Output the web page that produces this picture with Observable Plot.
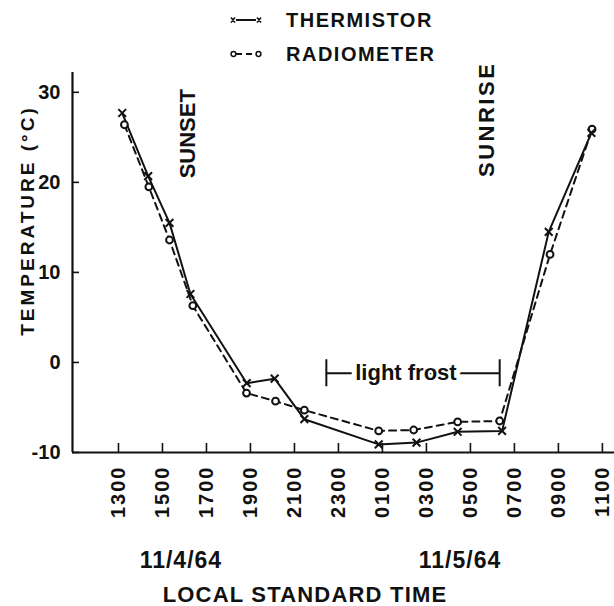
<!DOCTYPE html>
<html>
<head>
<meta charset="utf-8">
<script src="https://cdn.jsdelivr.net/npm/d3@7"></script>
<script src="https://cdn.jsdelivr.net/npm/@observablehq/plot@0.6"></script>
<style>
  html, body { margin: 0; padding: 0; background: #fff; }
  body { width: 614px; height: 606px; overflow: hidden; font-family: "Liberation Sans", Arial, sans-serif; color: #111; }
  #legend { position: relative; height: 62px; }
  .lg { position: absolute; left: 230px; height: 24px; display: flex; align-items: center; font-weight: 700; font-size: 20px; letter-spacing: 1.5px; }
  .lg svg { margin-right: 24px; }
  #chart svg { display: block; }
  #below { position: relative; height: 76px; }
  .cap { position: absolute; transform: translate(-50%, -50%); white-space: nowrap; font-weight: 700; }
</style>
</head>
<body>
<div id="legend"></div>
<div id="chart"></div>
<div id="below"></div>
<script>
// ---- data (time in hours from 0000 on 11/4/64; 24 = 0000 on 11/5/64) ----
const thermTime = [13.17, 14.35, 15.32, 16.27, 18.83, 20.10, 21.45, 24.83, 26.55, 28.42, 30.44, 32.56, 34.50];
const thermTemp = [27.7, 20.7, 15.5, 7.6, -2.3, -1.8, -6.3, -9.1, -8.9, -7.7, -7.6, 14.5, 25.5];
const radTime   = [13.27, 14.38, 15.32, 16.38, 18.82, 20.14, 21.45, 24.83, 26.42, 28.42, 30.33, 32.62, 34.53];
const radTemp   = [26.4, 19.5, 13.6, 6.3, -3.4, -4.3, -5.3, -7.6, -7.5, -6.6, -6.5, 12.0, 25.9];

const seriesNames = ["THERMISTOR", "RADIOMETER"];

const xTicks = [13, 15, 17, 19, 21, 23, 25, 27, 29, 31, 33, 35];
const xTickLabels = ["1300", "1500", "1700", "1900", "2100", "2300", "0100", "0300", "0500", "0700", "0900", "1100"];
const yTicks = [-10, 0, 10, 20, 30];
const xDomain = [10.91, 35.55];
const yDomain = [-10, 32.2];

const eventLabels = ["SUNSET", "SUNRISE"];
const eventTime = [16.14, 29.77];
const eventTemp = [25.4, 27.0];

const frostLabel = "light frost";
const frostSpan = [22.45, 30.33];
const frostLevel = -1.2;
const frostHalfBar = 1.5;
const frostTextTime = 26.07;

const dateLabels = ["11/4/64", "11/5/64"];
const dateTimes = [15.86, 28.55];
const xTitle = "LOCAL STANDARD TIME";
const yTitle = "TEMPERATURE (°C)";

// ---- tables ----
const thermistor = thermTime.map((t, i) => ({t, v: thermTemp[i]}));
const radiometer = radTime.map((t, i) => ({t, v: radTemp[i]}));
const events = eventLabels.map((label, i) => ({label, t: eventTime[i], v: eventTemp[i]}));

const FONT = "'Liberation Sans', Arial, sans-serif";
const INK = "#111";

// ---- legend ----
const legend = document.getElementById("legend");
const symT = `<svg width="32" height="12"><line x1="6" y1="6" x2="26" y2="6" stroke="${INK}" stroke-width="2"/>
  <path d="M1,3.5L5,8.5M5,3.5L1,8.5M27,3.5L31,8.5M31,3.5L27,8.5" stroke="${INK}" stroke-width="1.6"/></svg>`;
const symR = `<svg width="32" height="12"><line x1="6" y1="6" x2="26" y2="6" stroke="${INK}" stroke-width="2" stroke-dasharray="6,4"/>
  <circle cx="3.5" cy="6" r="2.4" fill="#fff" stroke="${INK}" stroke-width="1.5"/><circle cx="28.5" cy="6" r="2.4" fill="#fff" stroke="${INK}" stroke-width="1.5"/></svg>`;
[[symT, seriesNames[0], 8], [symR, seriesNames[1], 42]].forEach(([s, name, top]) => {
  const d = document.createElement("div");
  d.className = "lg";
  d.style.top = top + "px";
  d.innerHTML = s + `<span>${name}</span>`;
  legend.appendChild(d);
});

// ---- plot ----
const fmtX = d => xTickLabels[xTicks.indexOf(d)];

const plot = Plot.plot({
  width: 614,
  height: 468,
  marginLeft: 72,
  marginRight: 0,
  marginTop: 10,
  marginBottom: 78,
  style: {fontFamily: FONT, background: "transparent", overflow: "visible", color: INK},
  x: {domain: xDomain},
  y: {domain: yDomain},
  marks: [
    Plot.axisX(xTicks, {tickSize: -9, tickFormat: () => "", label: null, stroke: INK, strokeWidth: 1.6}),
    Plot.axisX(xTicks, {tickSize: 0, tickPadding: 13, tickRotate: -90, tickFormat: fmtX, label: null, fontSize: 20, fontWeight: "bold", fill: INK}),
    Plot.axisY(yTicks, {tickSize: -7, tickFormat: () => "", label: null, stroke: INK, strokeWidth: 1.6}),
    Plot.axisY(yTicks, {tickSize: 0, tickPadding: 12, tickFormat: d => (d < 0 ? "-" + Math.abs(d) : String(d)), label: null, fontSize: 20, fontWeight: "bold", fill: INK}),
    Plot.ruleY([yDomain[0]], {stroke: INK, strokeWidth: 2.2}),
    Plot.ruleX([xDomain[0]], {stroke: INK, strokeWidth: 2.2}),
    Plot.text([yTitle], {frameAnchor: "left", textAnchor: "middle", rotate: -90, dx: -45, dy: -42, fontSize: 19, fontWeight: "bold", fill: INK}),
    // annotations
    Plot.text(events, {x: "t", y: "v", text: "label", rotate: -90, fontSize: 22, fontWeight: "bold", fill: INK}),
    Plot.ruleY([frostLevel], {x1: frostSpan[0], x2: frostSpan[1], stroke: INK, strokeWidth: 1.8}),
    Plot.ruleX(frostSpan, {y1: frostLevel - frostHalfBar, y2: frostLevel + frostHalfBar, stroke: INK, strokeWidth: 2}),
    Plot.text([frostLabel], {x: frostTextTime, y: frostLevel, text: d => d, fontSize: 22, fontWeight: "bold", fill: INK, stroke: "white", strokeWidth: 10}),
    // series
    Plot.line(radiometer, {x: "t", y: "v", stroke: INK, strokeWidth: 2, strokeDasharray: "7,5"}),
    Plot.line(thermistor, {x: "t", y: "v", stroke: INK, strokeWidth: 2}),
    Plot.dot(radiometer, {x: "t", y: "v", symbol: "circle", r: 3.4, fill: "white", stroke: INK, strokeWidth: 2}),
    Plot.dot(thermistor, {x: "t", y: "v", symbol: "times", r: 3.6, stroke: INK, strokeWidth: 2})
  ]
});
document.getElementById("chart").appendChild(plot);

// letter spacing for lettering-style labels
d3.select(plot).selectAll("[aria-label='x-axis tick label'] text").style("letter-spacing", "2px");
d3.select(plot).selectAll("text").filter(function() { return this.textContent === yTitle; }).style("letter-spacing", "3px");
d3.select(plot).selectAll("text").filter(function() { return this.textContent === "SUNRISE"; }).style("letter-spacing", "2.5px");

// ---- captions below ----
const below = document.getElementById("below");
const xs = plot.scale("x");
dateLabels.forEach((lab, i) => {
  const s = document.createElement("span");
  s.className = "cap";
  s.textContent = lab;
  s.style.left = xs.apply(dateTimes[i]) + "px";
  s.style.top = "30px";
  s.style.fontSize = "23px";
  s.style.letterSpacing = "1px";
  below.appendChild(s);
});
const t = document.createElement("span");
t.className = "cap";
t.textContent = xTitle;
t.style.left = "305px";
t.style.top = "65px";
t.style.fontSize = "22px";
t.style.letterSpacing = "1.2px";
below.appendChild(t);
</script>
</body>
</html>
